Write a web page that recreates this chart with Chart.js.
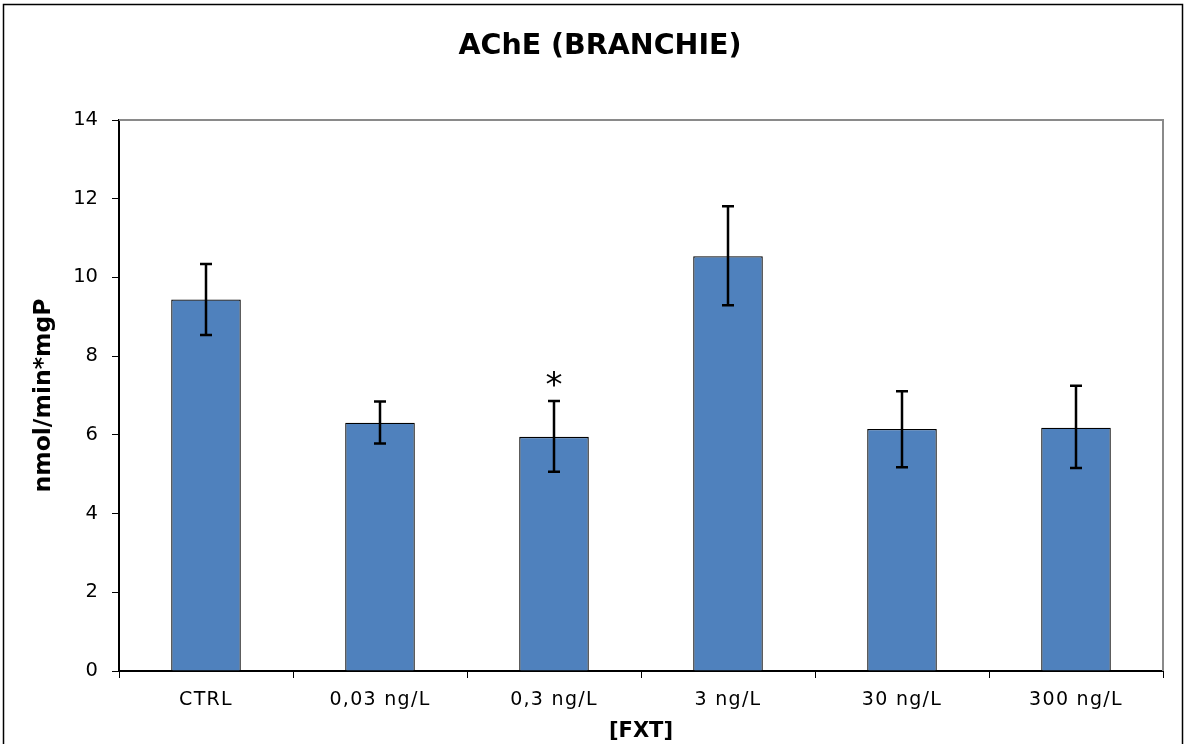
<!DOCTYPE html>
<html>
<head>
<meta charset="utf-8">
<script src="https://cdn.jsdelivr.net/npm/chart.js@4/dist/chart.umd.min.js"></script>
<style>
  html, body { margin: 0; padding: 0; background: #fff; }
  #wrap { width: 1186px; height: 744px; position: relative; }
</style>
</head>
<body>
<div id="wrap"><canvas id="c" width="1186" height="744"></canvas></div>
<script>
const categories = ['CTRL', '0,03 ng/L', '0,3 ng/L', '3 ng/L', '30 ng/L', '300 ng/L'];
const means = [9.44, 6.31, 5.95, 10.54, 6.15, 6.18];
const errLow = [8.54, 5.78, 5.06, 9.29, 5.18, 5.16];
const errHigh = [10.34, 6.85, 6.86, 11.81, 7.11, 7.25];
const significance = ['', '', '*', '', '', ''];
const yTicks = [0, 2, 4, 6, 8, 10, 12, 14];

const decorPlugin = {
  id: 'decor',
  beforeDraw(chart) {
    const xs = chart.scales.x;
    if (xs && !xs._lsPatched) {
      const orig = xs.drawLabels;
      xs.drawLabels = function (ca) {
        const c = this.ctx;
        c.save();
        try { c.letterSpacing = '1.3px'; } catch (e) {}
        orig.call(this, ca);
        c.restore();
      };
      xs._lsPatched = true;
    }
    const ctx = chart.ctx;
    ctx.save();
    ctx.fillStyle = '#fff';
    ctx.fillRect(0, 0, chart.width, chart.height);
    ctx.strokeStyle = '#000';
    ctx.lineWidth = 1.5;
    ctx.strokeRect(3.5, 4.5, 1179, 760);
    ctx.restore();
  },
  afterDatasetsDraw(chart) {
    const ctx = chart.ctx;
    const y = chart.scales.y;
    const a = chart.chartArea;
    ctx.save();
    ctx.strokeStyle = '#8a8a8a';
    ctx.lineWidth = 2;
    ctx.beginPath();
    ctx.moveTo(a.left, a.top);
    ctx.lineTo(a.right, a.top);
    ctx.lineTo(a.right, a.bottom);
    ctx.stroke();
    const meta = chart.getDatasetMeta(0);
    ctx.strokeStyle = '#000';
    ctx.lineWidth = 2.5;
    meta.data.forEach((bar, i) => {
      const x = bar.x;
      const yh = y.getPixelForValue(errHigh[i]);
      const yl = y.getPixelForValue(errLow[i]);
      ctx.beginPath();
      ctx.moveTo(x, yh); ctx.lineTo(x, yl);
      ctx.moveTo(x - 6, yh); ctx.lineTo(x + 6, yh);
      ctx.moveTo(x - 6, yl); ctx.lineTo(x + 6, yl);
      ctx.stroke();
      if (significance[i]) {
        ctx.fillStyle = '#000';
        ctx.font = '34px "DejaVu Sans"';
        ctx.textAlign = 'center';
        ctx.textBaseline = 'alphabetic';
        ctx.fillText(significance[i], x, yh - 5);
      }
    });
    ctx.restore();
  }
};

new Chart(document.getElementById('c'), {
  type: 'bar',
  data: {
    labels: categories,
    datasets: [{
      data: means,
      backgroundColor: '#4F81BD',
      borderColor: '#000',
      borderWidth: 1.3,
      categoryPercentage: 0.8,
      barPercentage: 0.5
    }]
  },
  options: {
    responsive: false,
    animation: false,
    events: [],
    layout: { padding: { left: 37, right: 23, top: 0, bottom: 0 } },
    plugins: {
      legend: { display: false },
      tooltip: { enabled: false },
      title: {
        display: true,
        text: 'AChE (BRANCHIE)',
        color: '#000',
        font: { family: '"DejaVu Sans"', size: 28.5, weight: 'bold', lineHeight: 1.2 },
        padding: { top: 29, bottom: 56.8 }
      }
    },
    scales: {
      x: {
        grid: { offset: true, drawOnChartArea: false, drawTicks: true, tickLength: 7, color: '#000', lineWidth: 1 },
        border: { display: true, color: '#000', width: 2 },
        ticks: { color: '#000', padding: 11, font: { family: '"DejaVu Sans"', size: 19 }, maxRotation: 0 },
        title: {
          display: true,
          text: '[FXT]',
          color: '#000',
          font: { family: '"DejaVu Sans"', size: 21, weight: 'bold', lineHeight: 1.2 },
          padding: { top: 0, bottom: 0 }
        },
        afterFit(s) { s.height = 73; }
      },
      y: {
        min: 0,
        max: 14,
        afterBuildTicks(s) { s.ticks = yTicks.map(v => ({ value: v })); },
        grid: { drawOnChartArea: false, drawTicks: true, tickLength: 7, color: '#000', lineWidth: 1 },
        border: { display: true, color: '#000', width: 2 },
        ticks: { color: '#000', padding: 14, font: { family: '"DejaVu Sans"', size: 19.5 } },
        title: {
          display: true,
          text: 'nmol/min*mgP',
          color: '#000',
          font: { family: '"DejaVu Sans"', size: 23.5, weight: 'bold', lineHeight: 1.2 },
          padding: { top: -7, bottom: 0 }
        },
        afterFit(s) { s.width = 82; }
      }
    }
  },
  plugins: [decorPlugin]
});
</script>
</body>
</html>
